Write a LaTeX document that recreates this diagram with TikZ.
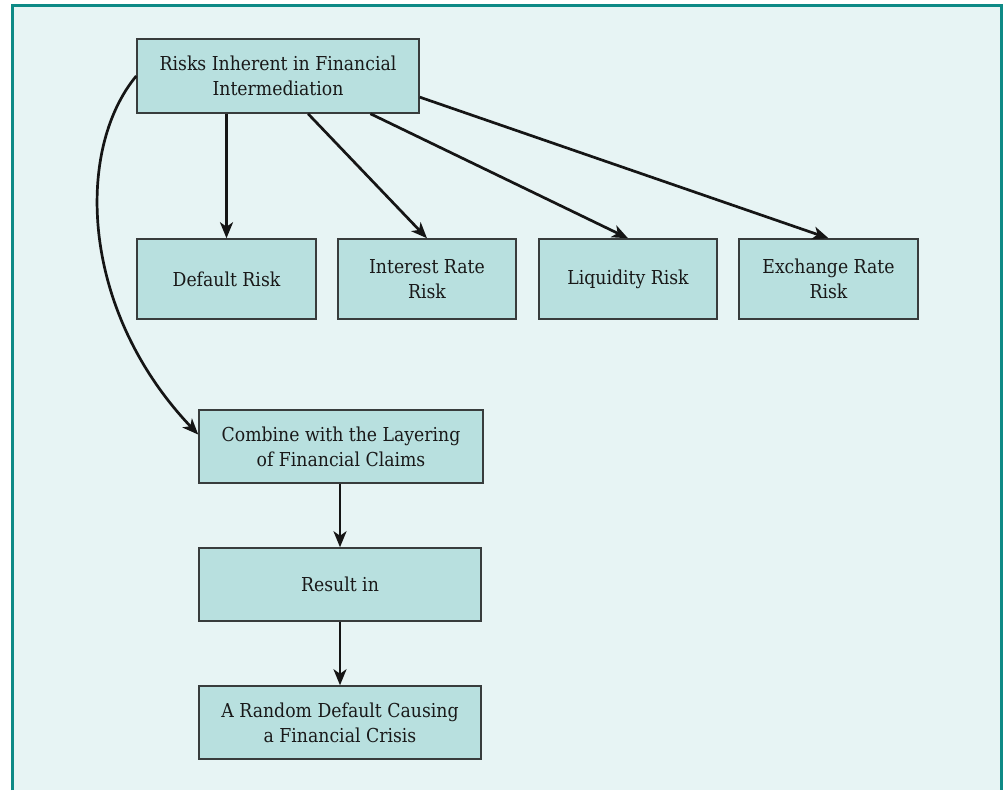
\documentclass[tikz,border=0pt]{standalone}
\usepackage{fontspec}
\setmainfont{DejaVu Serif Condensed}
\usetikzlibrary{arrows.meta,calc}
\definecolor{bgc}{HTML}{E7F4F4}
\definecolor{boxc}{HTML}{B8E0DF}
\definecolor{framec}{HTML}{0E8A86}
\definecolor{linec}{HTML}{383C3C}
\definecolor{arrc}{HTML}{151515}
\tikzset{
  box/.style={draw=linec, line width=1.5pt, fill=boxc, rectangle, align=center,
    inner sep=0pt, font=\fontsize{19.2}{25}\selectfont, text=black!90},
  arr/.style={draw=arrc, line width=2.7pt, -{Stealth[length=16pt,width=13pt,inset=4.5pt]}},
}
\begin{document}
\begin{tikzpicture}[x=1pt,y=-1pt]
\useasboundingbox (0,0) rectangle (1008,790);
\fill[white] (0,0) rectangle (1008,790);
\fill[bgc] (12,5) rectangle (1002,790);
\draw[framec, line width=3pt] (12.5,790) -- (12.5,5.5) -- (1001.5,5.5) -- (1001.5,790);
\node[box, minimum width=282pt, minimum height=74pt] (top) at (278,76) {Risks Inherent in Financial\\Intermediation};
\node[box, minimum width=179pt, minimum height=80pt] (def) at (226.5,279) {Default Risk};
\node[box, minimum width=178pt, minimum height=80pt] (int) at (427,279) {Interest Rate\\Risk};
\node[box, minimum width=178pt, minimum height=80pt] (liq) at (628,279) {Liquidity Risk};
\node[box, minimum width=179pt, minimum height=80pt] (exc) at (828.5,279) {Exchange Rate\\Risk};
\node[box, minimum width=284pt, minimum height=73pt] (comb) at (341,446.5) {Combine with the Layering\\of Financial Claims};
\node[box, minimum width=282pt, minimum height=73pt] (res) at (340,584.5) {Result in};
\node[box, minimum width=282pt, minimum height=73pt] (rand) at (340,722.5) {A Random Default Causing\\a Financial Crisis};
\draw[arr] (top.south -| def.north) -- (def.north);
\draw[arr] ($(top.south west)!0.606!(top.south east)$) -- (int.north);
\draw[arr] ($(top.south west)!0.826!(top.south east)$) -- (liq.north);
\draw[arr] ($(top.north east)!0.78!(top.south east)$) -- (exc.north);
\draw[arr] (top.west) .. controls (75,150) and (80,310) .. ($(comb.north west)!0.34!(comb.south west)$);
\draw[arr] (comb.south -| res.north) -- (res.north);
\draw[arr] (res.south) -- (rand.north);
\end{tikzpicture}
\end{document}
